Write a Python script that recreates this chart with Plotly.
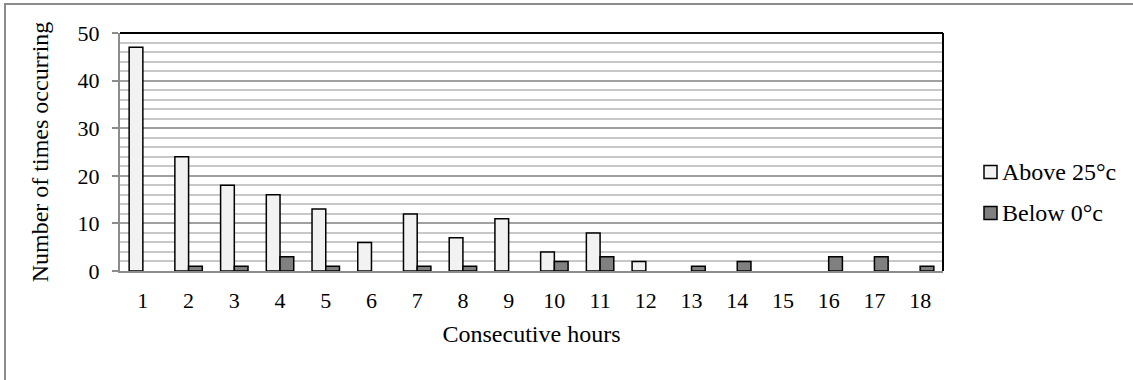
import plotly.graph_objects as go

hours = [str(h) for h in range(1, 19)]
above_25 = [47, 24, 18, 16, 13, 6, 12, 7, 11, 4, 8, 2, 0, 0, 0, 0, 0, 0]
below_0 = [0, 1, 1, 3, 1, 0, 1, 1, 0, 2, 3, 0, 1, 2, 0, 3, 3, 1]
series_names = ["Above 25°c", "Below 0°c"]
series_colors = ["#f2f2f2", "#808080"]

W, H = 1133, 380
L, R, T, B = 120, 190, 33, 109
pw, ph = W - L - R, H - T - B
font = "Liberation Serif, Times New Roman, serif"


def px_x(x):
    return (x - L) / pw


def px_y(y):
    return (H - B - y) / ph


def nonzero(vals):
    # empty categories get no bar at all (no outline on the baseline)
    return [v if v > 0 else None for v in vals]


fig = go.Figure()
for name, vals, col in zip(series_names, [above_25, below_0], series_colors):
    fig.add_trace(go.Bar(x=hours, y=nonzero(vals), name=name, showlegend=False,
                         marker=dict(color=col, line=dict(color="#000000", width=1.5))))

shapes = [
    # frame around the whole chart
    dict(type="rect", xref="paper", yref="paper",
         x0=px_x(5), x1=px_x(W + 20), y0=px_y(H + 20), y1=px_y(4),
         line=dict(color="#8c8c8c", width=2), layer="below"),
    # black top and right edges of the plot area
    dict(type="line", xref="paper", yref="paper", x0=0, x1=1, y0=1, y1=1,
         line=dict(color="#000000", width=2)),
    dict(type="line", xref="paper", yref="paper", x0=1, x1=1, y0=0, y1=1,
         line=dict(color="#000000", width=2)),
]
annotations = []
for i, (name, col) in enumerate(zip(series_names, series_colors)):
    cy = 172 + 41 * i
    shapes.append(dict(type="rect", xref="paper", yref="paper",
                       x0=px_x(984), x1=px_x(997), y0=px_y(cy + 6.5), y1=px_y(cy - 6.5),
                       fillcolor=col, line=dict(color="#000000", width=1.5)))
    annotations.append(dict(text=name, xref="paper", yref="paper",
                            x=px_x(1000), y=px_y(cy), xanchor="left", yanchor="middle",
                            showarrow=False,
                            font=dict(family=font, size=24, color="#000000")))

fig.update_layout(
    width=W, height=H,
    margin=dict(l=L, r=R, t=T, b=B),
    paper_bgcolor="white", plot_bgcolor="white",
    barmode="group", bargap=0.4, bargroupgap=0.0,
    font=dict(family=font, size=22, color="#000000"),
    showlegend=False,
    shapes=shapes, annotations=annotations,
    xaxis=dict(title=dict(text="Consecutive hours", font=dict(family=font, size=24), standoff=13),
               showline=True, linecolor="#8c8c8c", linewidth=2,
               ticks="", tickfont=dict(family=font, size=22), ticklabelstandoff=9,
               showgrid=False),
    yaxis=dict(title=dict(text="Number of times occurring", font=dict(family=font, size=24),
                          standoff=22),
               range=[0, 50], dtick=10, showline=True, linecolor="#8c8c8c", linewidth=2,
               ticks="outside", ticklen=6, tickcolor="#8c8c8c", tickwidth=2,
               tickfont=dict(family=font, size=22), ticklabelstandoff=8,
               showgrid=True, gridcolor="#a0a0a0", gridwidth=2,
               minor=dict(dtick=2, showgrid=True, gridcolor="#c8c8c8", gridwidth=2),
               zeroline=False),
)

fig.write_html("out.html")
